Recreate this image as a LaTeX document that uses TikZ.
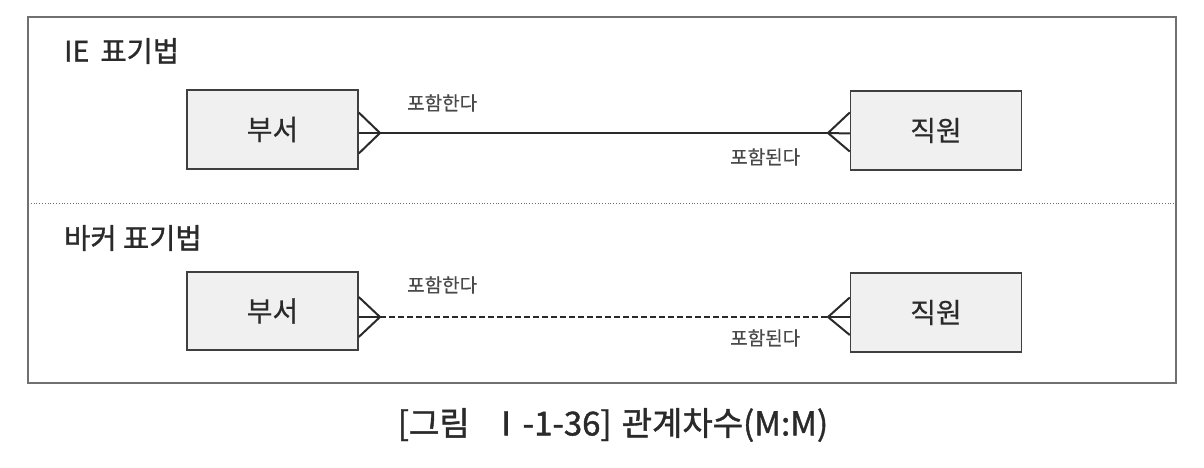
\documentclass[tikz,border=0pt]{standalone}
\usepackage{fontspec}
\setmainfont{Noto Sans CJK KR}
\newfontfamily\semib[FakeBold=1.2]{Noto Sans CJK KR}
\newfontfamily\medf[FakeBold=0.5]{Noto Sans CJK KR}
\usetikzlibrary{calc}
\definecolor{txt}{HTML}{2A2A2A}
\definecolor{frm}{HTML}{707070}
\definecolor{boxfill}{HTML}{F0F0F0}
\begin{document}
\begin{tikzpicture}[x=1pt,y=-1pt,
  entity/.style={draw=txt!90,line width=1.5pt,fill=boxfill,minimum width=171pt,minimum height=79pt,inner sep=0pt,font=\medf\fontsize{28}{28}\selectfont,text=txt},
  lbl/.style={font=\medf\fontsize{19}{19}\selectfont,text=txt!85,inner sep=0pt,anchor=west},
  ttl/.style={font=\semib\fontsize{28.5}{28.5}\selectfont,text=txt,inner sep=0pt,anchor=west},
  rel/.style={line width=2pt,draw=txt},
  foot/.style={line width=2pt,draw=txt}]
\useasboundingbox (0,0) rectangle (1204,468);
\fill[white] (0,0) rectangle (1204,468);
% frame
\draw[frm,line width=1.8pt] (28,17) rectangle (1176,383);
\draw[frm,line width=0.8pt,dotted] (28,203) -- (1176,203);
% titles
\node[ttl] (t1) at (64,51) {IE\, 표기법};
\node[ttl] (t2) at (64,238) {바커 표기법};
% top entities
\node[entity] (a1) at (272.5,129.5) {부서};
\node[entity] (b1) at (936,130.5) {직원};
\coordinate (a1p) at (380,133);
\coordinate (b1p) at (828,133);
\draw[foot] ($(a1.east)+(0,-17)$) -- (a1p) -- ($(a1.east)+(0,24)$);
\draw[foot] ($(a1.east)+(0,3.5)$) -- (a1p);
\draw[foot] ($(b1.west)+(0,-18)$) -- (b1p) -- ($(b1.west)+(0,21)$);
\draw[foot] ($(b1.west)+(0,3)$) -- (b1p);
\draw[rel] (a1p) -- (b1p);
\node[lbl] (l1) at (407,103) {포함한다};
\node[lbl] (l2) at (730,157) {포함된다};
% bottom entities
\node[entity,minimum height=78pt] (a2) at (272.5,311) {부서};
\node[entity] (b2) at (936,312.5) {직원};
\coordinate (a2p) at (380,317);
\coordinate (b2p) at (828,317);
\draw[foot] ($(a2.east)+(0,-14)$) -- (a2p) -- ($(a2.east)+(0,26)$);
\draw[foot] ($(a2.east)+(0,6)$) -- (a2p);
\draw[foot] ($(b2.west)+(0,-15)$) -- (b2p) -- ($(b2.west)+(0,22.5)$);
\draw[foot] ($(b2.west)+(0,4.5)$) -- (b2p);
\draw[rel,dash pattern=on 6pt off 3pt] (a2p) -- (b2p);
\node[lbl] (l3) at (407,285) {포함한다};
\node[lbl] (l4) at (730,338) {포함된다};
% caption
\node[font=\semib\fontsize{33}{33}\selectfont,text=txt,inner sep=0pt] (cap) at (613,425) {[그림\hspace{20pt}Ⅰ-1-36]\hspace{10pt}관계차수(M:M)};
\end{tikzpicture}
\end{document}
